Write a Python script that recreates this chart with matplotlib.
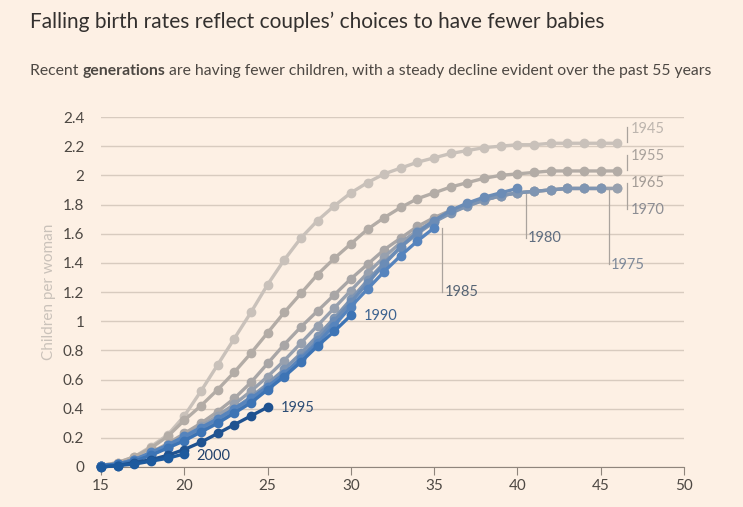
import numpy as np
import matplotlib
matplotlib.use('Agg')
import matplotlib.pyplot as plt

FONT = ['Lato', 'DejaVu Sans']
plt.rcParams['font.family'] = FONT

# cohort fertility (cumulative children per woman by age)
ages_full = list(range(15, 47))
c1945 = [0.01, 0.03, 0.07, 0.14, 0.22, 0.35, 0.52, 0.70, 0.88, 1.06, 1.25, 1.42, 1.57, 1.69, 1.79, 1.88,
         1.95, 2.01, 2.05, 2.09, 2.12, 2.15, 2.17, 2.19, 2.20, 2.21, 2.21, 2.22, 2.22, 2.22, 2.22, 2.22]
c1955 = [0.01, 0.03, 0.07, 0.13, 0.21, 0.32, 0.42, 0.53, 0.65, 0.78, 0.92, 1.06, 1.19, 1.32, 1.43, 1.53,
         1.63, 1.71, 1.78, 1.84, 1.88, 1.92, 1.95, 1.98, 2.00, 2.01, 2.02, 2.03, 2.03, 2.03, 2.03, 2.03]
c1965 = [0.01, 0.02, 0.05, 0.10, 0.16, 0.23, 0.30, 0.38, 0.47, 0.58, 0.71, 0.84, 0.96, 1.07, 1.18, 1.29,
         1.39, 1.49, 1.57, 1.65, 1.71, 1.76, 1.80, 1.83, 1.86, 1.88, 1.89, 1.90, 1.91, 1.91, 1.91, 1.91]
c1970 = [0.01, 0.02, 0.05, 0.09, 0.15, 0.21, 0.28, 0.35, 0.43, 0.52, 0.62, 0.73, 0.85, 0.97, 1.09, 1.21,
         1.33, 1.44, 1.54, 1.62, 1.69, 1.75, 1.79, 1.83, 1.86, 1.88, 1.89, 1.90, 1.91, 1.91, 1.91, 1.91]
c1975 = [0.01, 0.02, 0.05, 0.09, 0.14, 0.20, 0.26, 0.33, 0.40, 0.48, 0.57, 0.67, 0.78, 0.90, 1.02, 1.15,
         1.28, 1.40, 1.51, 1.60, 1.68, 1.74, 1.79, 1.83, 1.86, 1.88, 1.89, 1.90, 1.91, 1.91, 1.91]
c1980 = [0.01, 0.02, 0.05, 0.09, 0.14, 0.20, 0.26, 0.32, 0.39, 0.46, 0.55, 0.64, 0.75, 0.87, 1.00, 1.13,
         1.26, 1.39, 1.51, 1.61, 1.69, 1.76, 1.81, 1.85, 1.88, 1.91]
c1985 = [0.01, 0.02, 0.05, 0.10, 0.15, 0.21, 0.27, 0.33, 0.40, 0.47, 0.55, 0.64, 0.74, 0.85, 0.97, 1.10,
         1.22, 1.34, 1.45, 1.55, 1.64]
c1990 = [0.01, 0.02, 0.04, 0.08, 0.13, 0.18, 0.24, 0.30, 0.37, 0.44, 0.53, 0.62, 0.72, 0.83, 0.93, 1.04]
c1995 = [0.00, 0.01, 0.03, 0.05, 0.08, 0.12, 0.17, 0.23, 0.29, 0.35, 0.41]
c2000 = [0.00, 0.01, 0.02, 0.04, 0.06, 0.09]

cohorts = ['1945', '1955', '1965', '1970', '1975', '1980', '1985', '1990', '1995', '2000']
series = [c1945, c1955, c1965, c1970, c1975, c1980, c1985, c1990, c1995, c2000]
line_cols = ['#c9c1ba', '#b3aca6', '#a9a6a6', '#97a0ae', '#7f95b2', '#6b8cb6', '#5684bd',
             '#3d74b5', '#1f5290', '#1d5a9e']
text_cols = ['#bdb5ae', '#a9a29c', '#a39c96', '#8c8d93', '#7f8a9a', '#5f6d80', '#566474',
             '#3e6491', '#2d4d75', '#22416b']

BG = '#fdf0e4'

fig = plt.figure(figsize=(7.43, 5.07), dpi=100, facecolor=BG)
ax = fig.add_axes([101/743, 1-467/507, 583/743, 350/507])
ax.set_facecolor(BG)

for name, vals, col in zip(cohorts, series, line_cols):
    x = ages_full[:len(vals)]
    ax.plot(x, vals, color=col, lw=2.4, marker='o', ms=6, mec=col, mfc=col,
            clip_on=False, zorder=3)

ax.set_xlim(15, 50)
ax.set_ylim(0, 2.4)
ax.set_xticks(range(15, 51, 5))
ax.set_yticks(np.arange(0, 2.41, 0.2))
ax.set_yticklabels(['0', '0.2', '0.4', '0.6', '0.8', '1', '1.2', '1.4', '1.6', '1.8', '2', '2.2', '2.4'])
ax.grid(axis='y', color='#d8cbbf', lw=1)
ax.set_axisbelow(True)
for s in ['top', 'right', 'left']:
    ax.spines[s].set_visible(False)
ax.spines['bottom'].set_color('#8f857c')
ax.tick_params(axis='y', length=0, pad=12, labelsize=11, labelcolor='#4d4843')
ax.tick_params(axis='x', length=6, color='#8f857c', pad=3, labelsize=11, labelcolor='#4d4843')
ax.set_ylabel('Children per woman', color='#cac2ba', fontsize=11, labelpad=5)

lead = '#aaa39d'
fs = 10.5
# right-hand labels
ax.plot([46.55, 46.55], [2.23, 2.33], color=lead, lw=0.9, clip_on=False)
ax.text(46.8, 2.32, '1945', color=text_cols[0], fontsize=fs, va='center')
ax.plot([46.55, 46.55], [2.04, 2.14], color=lead, lw=0.9, clip_on=False)
ax.text(46.8, 2.13, '1955', color=text_cols[1], fontsize=fs, va='center')
ax.plot([46.55, 46.55], [1.77, 1.95], color=lead, lw=0.9, clip_on=False)
ax.text(46.8, 1.95, '1965', color=text_cols[2], fontsize=fs, va='center')
ax.text(46.8, 1.76, '1970', color=text_cols[3], fontsize=fs, va='center')

# leader lines
ax.plot([45.47, 45.47], [1.90, 1.39], color=lead, lw=0.9)
ax.text(45.6, 1.385, '1975', color=text_cols[4], fontsize=fs, va='center')
ax.plot([40.5, 40.5], [1.88, 1.57], color=lead, lw=0.9)
ax.text(40.62, 1.57, '1980', color=text_cols[5], fontsize=fs, va='center')
ax.plot([35.5, 35.5], [1.64, 1.20], color=lead, lw=0.9)
ax.text(35.62, 1.20, '1985', color=text_cols[6], fontsize=fs, va='center')
ax.text(30.75, 1.035, '1990', color=text_cols[7], fontsize=fs, va='center')
ax.text(25.8, 0.405, '1995', color=text_cols[8], fontsize=fs, va='center')
ax.text(20.75, 0.075, '2000', color=text_cols[9], fontsize=fs, va='center')

# title and subtitle
fig.text(30/743, 1-22/507, 'Falling birth rates reflect couples\u2019 choices to have fewer babies',
         fontsize=15, color='#33302e', va='center')

parts = [('Recent ', 'normal'), ('generations', 'bold'),
         (' are having fewer children, with a steady decline evident over the past 55 years', 'normal')]
fig.canvas.draw()
r = fig.canvas.get_renderer()
xpos = 30
for txt, w in parts:
    t = fig.text(xpos/743, 1-71/507, txt, fontsize=11.35, color='#4d4843', fontweight=w, va='center')
    bb = t.get_window_extent(renderer=r)
    xpos += bb.width

fig.savefig('out.png', dpi=100, facecolor=BG)
